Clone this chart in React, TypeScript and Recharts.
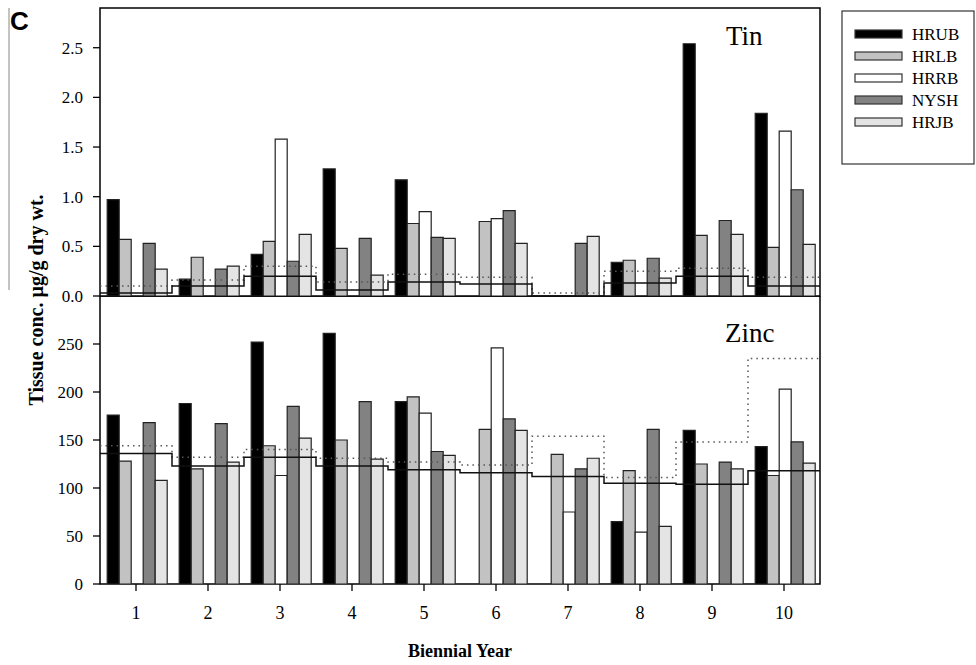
import React from 'react';
import { ComposedChart, Bar, Line, XAxis, YAxis, ReferenceArea } from 'recharts';

const years = ['1', '2', '3', '4', '5', '6', '7', '8', '9', '10'];
const seriesNames = ['HRUB', 'HRLB', 'HRRB', 'NYSH', 'HRJB'];
const seriesFills = ['#000000', '#c2c2c2', '#ffffff', '#828282', '#e4e4e4'];

// Tin, µg/g dry wt.
const tinHRUB = [0.97, 0.17, 0.42, 1.28, 1.17, null, null, 0.34, 2.54, 1.84];
const tinHRLB = [0.57, 0.39, 0.55, 0.48, 0.73, 0.75, null, 0.36, 0.61, 0.49];
const tinHRRB = [null, null, 1.58, null, 0.85, 0.78, null, null, null, 1.66];
const tinNYSH = [0.53, 0.27, 0.35, 0.58, 0.59, 0.86, 0.53, 0.38, 0.76, 1.07];
const tinHRJB = [0.27, 0.30, 0.62, 0.21, 0.58, 0.53, 0.60, 0.18, 0.62, 0.52];
const tinSolid = [0.03, 0.1, 0.2, 0.06, 0.14, 0.12, 0, 0.13, 0.2, 0.1];
const tinDotted = [0.1, 0.16, 0.3, 0.14, 0.22, 0.19, 0.03, 0.25, 0.28, 0.19];
const tinTicks = [0, 0.5, 1.0, 1.5, 2.0, 2.5];

// Zinc, µg/g dry wt.
const zincHRUB = [176, 188, 252, 261, 190, null, null, 65, 160, 143];
const zincHRLB = [128, 120, 144, 150, 195, 161, 135, 118, 125, 113];
const zincHRRB = [null, null, 113, null, 178, 246, 75, 54, null, 203];
const zincNYSH = [168, 167, 185, 190, 138, 172, 120, 161, 127, 148];
const zincHRJB = [108, 127, 152, 130, 134, 160, 131, 60, 120, 126];
const zincSolid = [136, 123, 132, 123, 119, 116, 112, 105, 104, 118];
const zincDotted = [144, 132, 140, 131, 127, 124, 154, 111, 148, 235];
const zincTicks = [0, 50, 100, 150, 200, 250];

const serif = "'Liberation Serif', 'Times New Roman', serif";

function makeRows(cols: (number | null)[][]) {
  return years.map((year, i) => {
    const row: any = { year };
    seriesNames.forEach((n, k) => (row[n] = cols[k][i]));
    return row;
  });
}

// step lines run band edge to band edge, so put points on the boundaries
function makeSteps(solid: number[], dotted: number[]) {
  const pts = solid.map((s, i) => ({ x: i + 0.5, solid: s, dotted: dotted[i] }));
  pts.push({ x: solid.length + 0.5, solid: solid[solid.length - 1], dotted: dotted[dotted.length - 1] });
  return pts;
}

const tinRows = makeRows([tinHRUB, tinHRLB, tinHRRB, tinNYSH, tinHRJB]);
const zincRows = makeRows([zincHRUB, zincHRLB, zincHRRB, zincNYSH, zincHRJB]);
const tinSteps = makeSteps(tinSolid, tinDotted);
const zincSteps = makeSteps(zincSolid, zincDotted);

interface PanelProps {
  rows: any[];
  steps: any[];
  yMax: number;
  yTicks: number[];
  fmt: (v: number) => string;
  showX: boolean;
  height: number;
  margin: { top: number; right: number; bottom: number; left: number };
}

function Panel({ rows, steps, yMax, yTicks, fmt, showX, height, margin }: PanelProps) {
  return (
    <ComposedChart width={830} height={height} data={rows} margin={margin} barCategoryGap="10%" barGap={0}>
      <XAxis
        xAxisId="cat"
        dataKey="year"
        hide={!showX}
        interval={0}
        height={42}
        axisLine={false}
        tickLine={{ stroke: '#000', strokeWidth: 1.3 }}
        tickSize={7}
        tickMargin={15}
        tick={{ fill: '#000', fontSize: 18, fontFamily: serif }}
      />
      <XAxis xAxisId="num" type="number" dataKey="x" domain={[0.5, 10.5]} allowDataOverflow hide />
      <YAxis
        domain={[0, yMax]}
        ticks={yTicks}
        interval={0}
        allowDataOverflow
        width={100}
        axisLine={false}
        tickLine={{ stroke: '#000', strokeWidth: 1.3 }}
        tickSize={7}
        tickMargin={10}
        tickFormatter={fmt}
        tick={{ fill: '#000', fontSize: 17, fontFamily: serif }}
      />
      {seriesNames.map((n, k) => (
        <Bar
          key={n}
          xAxisId="cat"
          dataKey={n}
          fill={seriesFills[k]}
          stroke="#222"
          strokeWidth={1.2}
          isAnimationActive={false}
        />
      ))}
      <Line
        xAxisId="num"
        data={steps}
        dataKey="dotted"
        type="stepAfter"
        stroke="#555"
        strokeWidth={1.5}
        strokeDasharray="1.5 4"
        dot={false}
        isAnimationActive={false}
      />
      <Line
        xAxisId="num"
        data={steps}
        dataKey="solid"
        type="stepAfter"
        stroke="#111"
        strokeWidth={1.5}
        dot={false}
        isAnimationActive={false}
      />
      <ReferenceArea
        xAxisId="num"
        x1={0.5}
        x2={10.5}
        y1={0}
        y2={yMax}
        fill="none"
        stroke="#000"
        strokeWidth={1.5}
        ifOverflow="visible"
      />
    </ComposedChart>
  );
}

export default function App() {
  const legendTop = 11;
  return (
    <div style={{ position: 'absolute', left: 0, top: 0, width: 976, height: 665, background: '#fff' }}>
      <div style={{ position: 'absolute', left: 0, top: 296 }}>
        <Panel
          rows={zincRows}
          steps={zincSteps}
          yMax={300}
          yTicks={zincTicks}
          fmt={(v) => String(v)}
          showX={true}
          height={330}
          margin={{ top: 0, right: 10, bottom: 0, left: 0 }}
        />
      </div>
      {/* taller than its plot so the 0.0 label is not clipped */}
      <div style={{ position: 'absolute', left: 0, top: 0 }}>
        <Panel
          rows={tinRows}
          steps={tinSteps}
          yMax={2.9}
          yTicks={tinTicks}
          fmt={(v) => v.toFixed(1)}
          showX={false}
          height={312}
          margin={{ top: 8, right: 10, bottom: 16, left: 0 }}
        />
      </div>
      <svg width={976} height={665} style={{ position: 'absolute', left: 0, top: 0, pointerEvents: 'none' }}>
        <line x1={9} y1={8} x2={9} y2={290} stroke="#888" strokeWidth={1} />
        <text x={10} y={30} fontFamily="'Liberation Sans', Arial, sans-serif" fontWeight="bold" fontSize={26} fill="#000">
          C
        </text>
        <text x={726} y={45} fontFamily={serif} fontSize={27} fill="#000">
          Tin
        </text>
        <text x={725} y={342} fontFamily={serif} fontSize={27} fill="#000">
          Zinc
        </text>
        <text
          transform="translate(43,300) rotate(-90)"
          textAnchor="middle"
          fontFamily={serif}
          fontWeight="bold"
          fontSize={20}
          fill="#000"
        >
          Tissue conc. µg/g dry wt.
        </text>
        <text x={460} y={657} textAnchor="middle" fontFamily={serif} fontWeight="bold" fontSize={18} fill="#000">
          Biennial Year
        </text>
        <rect x={842} y={legendTop} width={132} height={153} fill="#fff" stroke="#333" strokeWidth={1.2} />
        {seriesNames.map((n, k) => (
          <g key={n}>
            <rect
              x={855}
              y={legendTop + 19 + k * 22}
              width={47}
              height={8}
              fill={seriesFills[k]}
              stroke="#333"
              strokeWidth={1.2}
            />
            <text x={912} y={legendTop + 29 + k * 22} fontFamily={serif} fontSize={17} fill="#000">
              {n}
            </text>
          </g>
        ))}
      </svg>
    </div>
  );
}
